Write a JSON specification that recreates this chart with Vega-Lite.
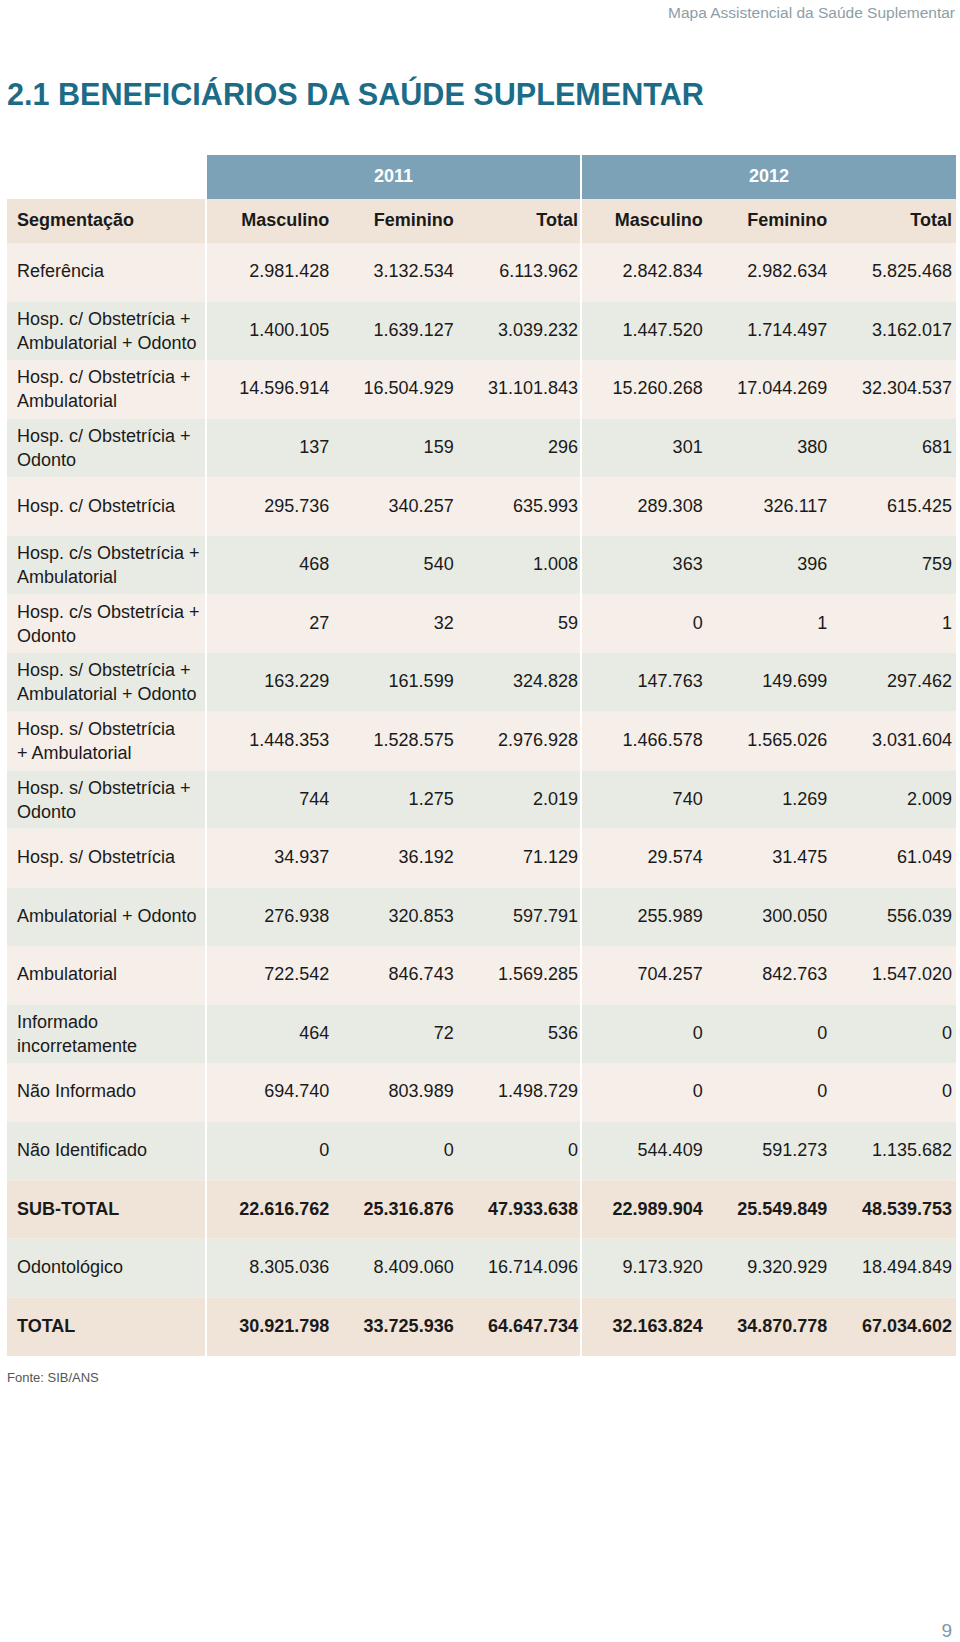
{
  "$schema": "https://vega.github.io/schema/vega-lite/v6.json",
  "background": "white",
  "padding": {"left": 7, "top": 5, "right": 0, "bottom": 0},
  "title": {"text": "Mapa Assistencial da Saúde Suplementar", "anchor": "end", "fontSize": 15.5, "font": "Liberation Sans", "fontWeight": "normal", "color": "#8d9ea6", "offset": 60, "dx": -1},
  "config": {
    "view": {"stroke": null},
    "locale": {"number": {"decimal": ",", "thousands": ".", "grouping": [3], "currency": ["R$ ", ""]}},
    "text": {"font": "Liberation Sans", "fontSize": 18, "color": "#1a1a1a", "lineBreak": "\n", "lineHeight": 24}
  },
  "datasets": {
    "rows": [
      {"i": 1, "seg": "Referência", "M2011": 2981428, "F2011": 3132534, "T2011": 6113962, "M2012": 2842834, "F2012": 2982634, "T2012": 5825468},
      {"i": 2, "seg": "Hosp. c/ Obstetrícia +\nAmbulatorial + Odonto", "M2011": 1400105, "F2011": 1639127, "T2011": 3039232, "M2012": 1447520, "F2012": 1714497, "T2012": 3162017},
      {"i": 3, "seg": "Hosp. c/ Obstetrícia +\nAmbulatorial", "M2011": 14596914, "F2011": 16504929, "T2011": 31101843, "M2012": 15260268, "F2012": 17044269, "T2012": 32304537},
      {"i": 4, "seg": "Hosp. c/ Obstetrícia +\nOdonto", "M2011": 137, "F2011": 159, "T2011": 296, "M2012": 301, "F2012": 380, "T2012": 681},
      {"i": 5, "seg": "Hosp. c/ Obstetrícia", "M2011": 295736, "F2011": 340257, "T2011": 635993, "M2012": 289308, "F2012": 326117, "T2012": 615425},
      {"i": 6, "seg": "Hosp. c/s Obstetrícia +\nAmbulatorial", "M2011": 468, "F2011": 540, "T2011": 1008, "M2012": 363, "F2012": 396, "T2012": 759},
      {"i": 7, "seg": "Hosp. c/s Obstetrícia +\nOdonto", "M2011": 27, "F2011": 32, "T2011": 59, "M2012": 0, "F2012": 1, "T2012": 1},
      {"i": 8, "seg": "Hosp. s/ Obstetrícia +\nAmbulatorial + Odonto", "M2011": 163229, "F2011": 161599, "T2011": 324828, "M2012": 147763, "F2012": 149699, "T2012": 297462},
      {"i": 9, "seg": "Hosp. s/ Obstetrícia\n+ Ambulatorial", "M2011": 1448353, "F2011": 1528575, "T2011": 2976928, "M2012": 1466578, "F2012": 1565026, "T2012": 3031604},
      {"i": 10, "seg": "Hosp. s/ Obstetrícia +\nOdonto", "M2011": 744, "F2011": 1275, "T2011": 2019, "M2012": 740, "F2012": 1269, "T2012": 2009},
      {"i": 11, "seg": "Hosp. s/ Obstetrícia", "M2011": 34937, "F2011": 36192, "T2011": 71129, "M2012": 29574, "F2012": 31475, "T2012": 61049},
      {"i": 12, "seg": "Ambulatorial + Odonto", "M2011": 276938, "F2011": 320853, "T2011": 597791, "M2012": 255989, "F2012": 300050, "T2012": 556039},
      {"i": 13, "seg": "Ambulatorial", "M2011": 722542, "F2011": 846743, "T2011": 1569285, "M2012": 704257, "F2012": 842763, "T2012": 1547020},
      {"i": 14, "seg": "Informado\nincorretamente", "M2011": 464, "F2011": 72, "T2011": 536, "M2012": 0, "F2012": 0, "T2012": 0},
      {"i": 15, "seg": "Não Informado", "M2011": 694740, "F2011": 803989, "T2011": 1498729, "M2012": 0, "F2012": 0, "T2012": 0},
      {"i": 16, "seg": "Não Identificado", "M2011": 0, "F2011": 0, "T2011": 0, "M2012": 544409, "F2012": 591273, "T2012": 1135682},
      {"i": 17, "seg": "SUB-TOTAL", "M2011": 22616762, "F2011": 25316876, "T2011": 47933638, "M2012": 22989904, "F2012": 25549849, "T2012": 48539753},
      {"i": 18, "seg": "Odontológico", "M2011": 8305036, "F2011": 8409060, "T2011": 16714096, "M2012": 9173920, "F2012": 9320929, "T2012": 18494849},
      {"i": 19, "seg": "TOTAL", "M2011": 30921798, "F2011": 33725936, "T2011": 64647734, "M2012": 32163824, "F2012": 34870778, "T2012": 67034602}
    ],
    "head": [
      {"yr": "2011", "r": "year", "t": "2011"},
      {"yr": "2011", "r": "names", "col": "M", "t": "Masculino"},
      {"yr": "2011", "r": "names", "col": "F", "t": "Feminino"},
      {"yr": "2011", "r": "names", "col": "T", "t": "Total"},
      {"yr": "2012", "r": "year", "t": "2012"},
      {"yr": "2012", "r": "names", "col": "M", "t": "Masculino"},
      {"yr": "2012", "r": "names", "col": "F", "t": "Feminino"},
      {"yr": "2012", "r": "names", "col": "T", "t": "Total"}
    ],
    "headLeft": [
      {"r": "year", "t": ""},
      {"r": "names", "t": "Segmentação"}
    ]
  },
  "spacing": 0,
  "vconcat": [
    {
      "title": {"text": "2.1 BENEFICIÁRIOS DA SAÚDE SUPLEMENTAR", "anchor": "start", "frame": "group", "fontSize": 30.6, "font": "Liberation Sans", "fontWeight": "bold", "color": "#1c6c88", "offset": 43},
      "spacing": 2,
      "hconcat": [
        {
          "width": 198, "height": 88,
          "data": {"name": "headLeft"},
          "encoding": {"y": {"field": "r", "type": "nominal", "scale": {"type": "band", "domain": ["year", "names"], "paddingInner": 0, "paddingOuter": 0}, "axis": null}},
          "layer": [
            {"transform": [{"filter": "datum.r === 'names'"}], "mark": {"type": "rect", "color": "#f0e4d8"}, "encoding": {}},
            {"transform": [{"filter": "datum.r === 'names'"}], "mark": {"type": "text", "align": "left", "baseline": "middle", "dx": 10, "fontWeight": "bold"},
             "encoding": {"x": {"datum": "seg", "type": "nominal", "scale": {"type": "point", "domain": ["seg"], "padding": 0, "align": 0}, "axis": null}, "text": {"field": "t"}}}
          ]
        },
        {
          "width": 373, "height": 88,
          "data": {"name": "head"},
          "transform": [{"filter": "datum.yr === '2011'"}],
          "encoding": {"y": {"field": "r", "type": "nominal", "scale": {"type": "band", "domain": ["year", "names"], "paddingInner": 0, "paddingOuter": 0}, "axis": null}},
          "layer": [
            {"transform": [{"filter": "datum.r === 'year'"}], "mark": {"type": "rect", "color": "#7ca2b7"}, "encoding": {}},
            {"transform": [{"filter": "datum.r === 'names'"}], "mark": {"type": "rect", "color": "#f0e4d8"}, "encoding": {}},
            {"transform": [{"filter": "datum.r === 'year'"}], "mark": {"type": "text", "align": "center", "baseline": "middle", "fontWeight": "bold", "color": "white", "fontSize": 18},
             "encoding": {"text": {"field": "t"}}},
            {"transform": [{"filter": "datum.r === 'names'"}], "mark": {"type": "text", "align": "right", "baseline": "middle", "fontWeight": "bold", "dx": -2},
             "encoding": {"x": {"field": "col", "type": "nominal", "bandPosition": 1, "scale": {"type": "band", "domain": ["M", "F", "T"], "paddingInner": 0, "paddingOuter": 0}, "axis": null}, "text": {"field": "t"}}}
          ]
        },
        {
          "width": 374, "height": 88,
          "data": {"name": "head"},
          "transform": [{"filter": "datum.yr === '2012'"}],
          "encoding": {"y": {"field": "r", "type": "nominal", "scale": {"type": "band", "domain": ["year", "names"], "paddingInner": 0, "paddingOuter": 0}, "axis": null}},
          "layer": [
            {"transform": [{"filter": "datum.r === 'year'"}], "mark": {"type": "rect", "color": "#7ca2b7"}, "encoding": {}},
            {"transform": [{"filter": "datum.r === 'names'"}], "mark": {"type": "rect", "color": "#f0e4d8"}, "encoding": {}},
            {"transform": [{"filter": "datum.r === 'year'"}], "mark": {"type": "text", "align": "center", "baseline": "middle", "fontWeight": "bold", "color": "white", "fontSize": 18},
             "encoding": {"text": {"field": "t"}}},
            {"transform": [{"filter": "datum.r === 'names'"}], "mark": {"type": "text", "align": "right", "baseline": "middle", "fontWeight": "bold", "dx": -4},
             "encoding": {"x": {"field": "col", "type": "nominal", "bandPosition": 1, "scale": {"type": "band", "domain": ["M", "F", "T"], "paddingInner": 0, "paddingOuter": 0}, "axis": null}, "text": {"field": "t"}}}
          ]
        }
      ]
    },
    {
      "spacing": 2,
      "hconcat": [
        {
          "width": 198, "height": 1113,
          "title": {"text": "Fonte: SIB/ANS", "orient": "bottom", "anchor": "start", "fontSize": 13, "font": "Liberation Sans", "fontWeight": "normal", "color": "#555555", "offset": 16},
          "data": {"name": "rows"},
          "transform": [
            {"calculate": "datum.seg === 'SUB-TOTAL' || datum.seg === 'TOTAL' ? 'total' : (datum.i % 2 === 1 ? 'odd' : 'even')", "as": "shade"},
            {"calculate": "indexof(datum.seg, '\\n') >= 0", "as": "twoLines"}
          ],
          "encoding": {"y": {"field": "i", "type": "ordinal", "scale": {"type": "band", "paddingInner": 0, "paddingOuter": 0}, "axis": null}},
          "layer": [
            {"mark": {"type": "rect"}, "encoding": {"color": {"field": "shade", "type": "nominal", "scale": {"domain": ["odd", "even", "total"], "range": ["#f5eee9", "#e8ebe4", "#f0e4d8"]}, "legend": null}}},
            {"transform": [{"filter": "datum.shade !== 'total' && !datum.twoLines"}], "mark": {"type": "text", "align": "left", "baseline": "middle", "dx": 10},
             "encoding": {"x": {"datum": "seg", "type": "nominal", "scale": {"type": "point", "domain": ["seg"], "padding": 0, "align": 0}, "axis": null}, "text": {"field": "seg"}}},
            {"transform": [{"filter": "datum.twoLines"}], "mark": {"type": "text", "align": "left", "baseline": "middle", "dx": 10, "dy": -11},
             "encoding": {"x": {"datum": "seg", "type": "nominal", "scale": {"type": "point", "domain": ["seg"], "padding": 0, "align": 0}, "axis": null}, "text": {"field": "seg"}}},
            {"transform": [{"filter": "datum.shade === 'total'"}], "mark": {"type": "text", "align": "left", "baseline": "middle", "dx": 10, "fontWeight": "bold"},
             "encoding": {"x": {"datum": "seg", "type": "nominal", "scale": {"type": "point", "domain": ["seg"], "padding": 0, "align": 0}, "axis": null}, "text": {"field": "seg"}}}
          ]
        },
        {
          "width": 373, "height": 1113,
          "data": {"name": "rows"},
          "transform": [{"calculate": "datum.seg === 'SUB-TOTAL' || datum.seg === 'TOTAL' ? 'total' : (datum.i % 2 === 1 ? 'odd' : 'even')", "as": "shade"}],
          "encoding": {"y": {"field": "i", "type": "ordinal", "scale": {"type": "band", "paddingInner": 0, "paddingOuter": 0}, "axis": null}},
          "layer": [
            {"mark": {"type": "rect"}, "encoding": {"color": {"field": "shade", "type": "nominal", "scale": {"domain": ["odd", "even", "total"], "range": ["#f5eee9", "#e8ebe4", "#f0e4d8"]}, "legend": null}}},
            {"transform": [{"fold": ["M2011", "F2011", "T2011"], "as": ["col", "v"]}, {"filter": "datum.shade !== 'total'"}],
             "mark": {"type": "text", "align": "right", "baseline": "middle", "dx": -2},
             "encoding": {"x": {"field": "col", "type": "nominal", "bandPosition": 1, "scale": {"type": "band", "domain": ["M2011", "F2011", "T2011"], "paddingInner": 0, "paddingOuter": 0}, "axis": null}, "text": {"field": "v", "type": "quantitative", "format": ",d"}}},
            {"transform": [{"fold": ["M2011", "F2011", "T2011"], "as": ["col", "v"]}, {"filter": "datum.shade === 'total'"}],
             "mark": {"type": "text", "align": "right", "baseline": "middle", "dx": -2, "fontWeight": "bold"},
             "encoding": {"x": {"field": "col", "type": "nominal", "bandPosition": 1, "scale": {"type": "band", "domain": ["M2011", "F2011", "T2011"], "paddingInner": 0, "paddingOuter": 0}, "axis": null}, "text": {"field": "v", "type": "quantitative", "format": ",d"}}}
          ]
        },
        {
          "width": 374, "height": 1113,
          "title": {"text": "9", "orient": "bottom", "anchor": "end", "fontSize": 19, "font": "Liberation Sans", "fontWeight": "normal", "color": "#7b9aa7", "offset": 266, "dx": -4},
          "data": {"name": "rows"},
          "transform": [{"calculate": "datum.seg === 'SUB-TOTAL' || datum.seg === 'TOTAL' ? 'total' : (datum.i % 2 === 1 ? 'odd' : 'even')", "as": "shade"}],
          "encoding": {"y": {"field": "i", "type": "ordinal", "scale": {"type": "band", "paddingInner": 0, "paddingOuter": 0}, "axis": null}},
          "layer": [
            {"mark": {"type": "rect"}, "encoding": {"color": {"field": "shade", "type": "nominal", "scale": {"domain": ["odd", "even", "total"], "range": ["#f5eee9", "#e8ebe4", "#f0e4d8"]}, "legend": null}}},
            {"transform": [{"fold": ["M2012", "F2012", "T2012"], "as": ["col", "v"]}, {"filter": "datum.shade !== 'total'"}],
             "mark": {"type": "text", "align": "right", "baseline": "middle", "dx": -4},
             "encoding": {"x": {"field": "col", "type": "nominal", "bandPosition": 1, "scale": {"type": "band", "domain": ["M2012", "F2012", "T2012"], "paddingInner": 0, "paddingOuter": 0}, "axis": null}, "text": {"field": "v", "type": "quantitative", "format": ",d"}}},
            {"transform": [{"fold": ["M2012", "F2012", "T2012"], "as": ["col", "v"]}, {"filter": "datum.shade === 'total'"}],
             "mark": {"type": "text", "align": "right", "baseline": "middle", "dx": -4, "fontWeight": "bold"},
             "encoding": {"x": {"field": "col", "type": "nominal", "bandPosition": 1, "scale": {"type": "band", "domain": ["M2012", "F2012", "T2012"], "paddingInner": 0, "paddingOuter": 0}, "axis": null}, "text": {"field": "v", "type": "quantitative", "format": ",d"}}}
          ]
        }
      ]
    }
  ]
}
